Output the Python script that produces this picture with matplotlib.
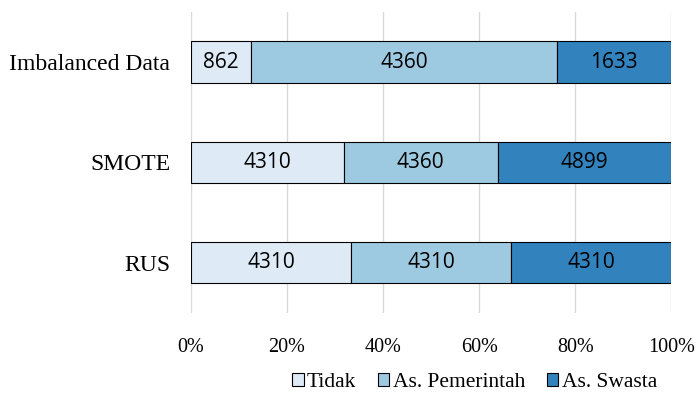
import numpy as np
import matplotlib.pyplot as plt

categories = ["Imbalanced Data", "SMOTE", "RUS"]
series_names = ["Tidak", "As. Pemerintah", "As. Swasta"]
tidak = [862, 4310, 4310]
pemerintah = [4360, 4360, 4310]
swasta = [1633, 4899, 4310]
colors = ["#DEEBF7", "#9ECAE1", "#3182BD"]

counts = np.array([tidak, pemerintah, swasta], dtype=float)
shares = counts / counts.sum(axis=0) * 100

fig = plt.figure(figsize=(6.97, 3.95), dpi=100)
ax = fig.add_axes([0.274, 0.208, 0.689, 0.762])

# categories top to bottom
ypos = np.arange(len(categories))[::-1]
left = np.zeros(len(categories))
for name, vals, raw, col in zip(series_names, shares, counts, colors):
    bars = ax.barh(ypos, vals, left=left, height=0.41, color=col,
                   edgecolor="black", linewidth=0.8, label=name, zorder=3)
    for b, v in zip(bars, raw):
        ax.text(b.get_x() + b.get_width() / 2, b.get_y() + b.get_height() / 2,
                f"{int(v)}", ha="center", va="center", fontsize=15,
                family="Open Sans", color="black", zorder=4)
    left += vals

ax.set_xlim(0, 100)
ax.set_ylim(-0.5, 2.5)
ax.set_xticks(np.arange(0, 101, 20))
ax.set_xticklabels([f"{t}%" for t in range(0, 101, 20)], family="Liberation Serif", fontsize=14.5)
ax.set_yticks(ypos)
ax.set_yticklabels(categories, family="Liberation Serif", fontsize=17)
ax.tick_params(length=0)
ax.tick_params(axis="y", pad=15)
ax.tick_params(axis="x", pad=18)
ax.grid(axis="x", color="#d9d9d9", linewidth=1, zorder=0)
for s in ax.spines.values():
    s.set_visible(False)

ax.legend(loc="center", bbox_to_anchor=(0.59, -0.232), ncol=3, frameon=False,
          prop={"family": "Liberation Serif", "size": 15.5},
          handlelength=0.55, handleheight=0.55, handletextpad=0.15, columnspacing=1.0,
          borderpad=0, borderaxespad=0)

fig.savefig("out.png", dpi=100)
